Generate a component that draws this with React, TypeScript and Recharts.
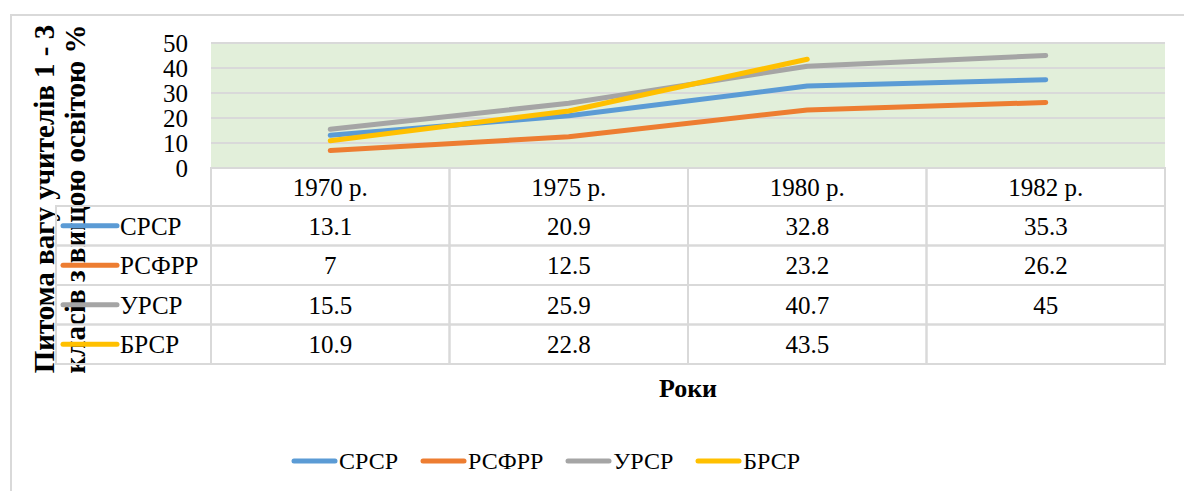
import React from 'react'
import {
  LineChart,
  Line,
  XAxis,
  YAxis,
  CartesianGrid,
  Legend,
} from 'recharts'

const categories = ['1970 р.', '1975 р.', '1980 р.', '1982 р.']
const seriesNames = ['СРСР', 'РСФРР', 'УРСР', 'БРСР']
const srsr = [13.1, 20.9, 32.8, 35.3]
const rsfrr = [7, 12.5, 23.2, 26.2]
const ursr = [15.5, 25.9, 40.7, 45]
const brsr: (number | null)[] = [10.9, 22.8, 43.5, null]
const yTicks = [0, 10, 20, 30, 40, 50]
const colors = ['#5B9BD5', '#ED7D31', '#A5A5A5', '#FFC000']

const seriesValues = [srsr, rsfrr, ursr, brsr]
const data = categories.map((c, i) => ({
  cat: c,
  s0: srsr[i],
  s1: rsfrr[i],
  s2: ursr[i],
  s3: brsr[i],
}))

const W = 1184
const H = 491
const FONT = 'Liberation Serif'
const GRID = '#d9d9d9'

const PLOT_LEFT = 211
const PLOT_RIGHT = 1165
const PLOT_TOP = 43
const PLOT_BOTTOM = 168
const BAND = (PLOT_RIGHT - PLOT_LEFT) / categories.length
const KEY_LEFT = 56
const HEADER_H = 38
const ROW_H = 39.5
const Y_AXIS_W = 60
const X_AXIS_H = 200
const LEGEND_H = 30
const TABLE_FS = 25

const TableColumn = (props: any) => {
  const { x, index } = props
  const left = x - BAND / 2
  const rows = seriesNames.map((name, r) => {
    const top = PLOT_BOTTOM + HEADER_H + r * ROW_H
    const v = seriesValues[r][index]
    return (
      <g key={name}>
        <rect x={left} y={top} width={BAND} height={ROW_H} fill="none" stroke={GRID} strokeWidth={2} />
        <text x={x} y={top + ROW_H / 2} dy="0.35em" textAnchor="middle" fontSize={TABLE_FS} fontFamily={FONT} fill="#000">
          {v == null ? '' : String(v)}
        </text>
        {index === 0 && (
          <g>
            <rect x={KEY_LEFT} y={top} width={PLOT_LEFT - KEY_LEFT} height={ROW_H} fill="none" stroke={GRID} strokeWidth={2} />
            <line x1={63} x2={117} y1={top + ROW_H / 2} y2={top + ROW_H / 2} stroke={colors[r]} strokeWidth={5} strokeLinecap="round" />
            <text x={120} y={top + ROW_H / 2} dy="0.35em" textAnchor="start" fontSize={TABLE_FS} fontFamily={FONT} fill="#000">
              {name}
            </text>
          </g>
        )}
      </g>
    )
  })
  return (
    <g>
      <rect x={left} y={PLOT_BOTTOM} width={BAND} height={HEADER_H} fill="none" stroke={GRID} strokeWidth={2} />
      <text x={x} y={PLOT_BOTTOM + HEADER_H / 2} dy="0.35em" textAnchor="middle" fontSize={TABLE_FS} fontFamily={FONT} fill="#000">
        {categories[index]}
      </text>
      {rows}
      {index === 0 && (
        <text x={(PLOT_LEFT + PLOT_RIGHT) / 2} y={388} dy="0.35em" textAnchor="middle" fontSize={26} fontWeight="bold" fontFamily={FONT} fill="#000">
          Роки
        </text>
      )}
    </g>
  )
}

const YTitle = () => (
  <g>
    <text transform="translate(44,199) rotate(-90)" dy="0.35em" textAnchor="middle" fontSize={29} fontWeight="bold" fontFamily={FONT} fill="#000">
      Питома вагу учителів 1 - 3
    </text>
    <text transform="translate(75,199) rotate(-90)" dy="0.35em" textAnchor="middle" fontSize={29} fontWeight="bold" fontFamily={FONT} fill="#000">
      класів з вищою освітою %
    </text>
  </g>
)

const LegendContent = () => (
  <div style={{ display: 'flex', gap: 22, paddingLeft: 291, height: LEGEND_H, fontFamily: FONT, fontSize: 24, color: '#000', alignItems: 'center' }}>
    {seriesNames.map((name, i) => (
      <div key={name} style={{ display: 'flex', alignItems: 'center' }}>
        <svg width={48} height={10}>
          <line x1={3} x2={44} y1={5} y2={5} stroke={colors[i]} strokeWidth={5} strokeLinecap="round" />
        </svg>
        <span>{name}</span>
      </div>
    ))}
  </div>
)

export default function App() {
  return (
    <div style={{ position: 'absolute', left: 0, top: 0, width: W, height: H, overflow: 'hidden', background: '#fff' }}>
      <div style={{ position: 'absolute', left: 10, top: 14, width: 1400, height: 700, border: `2px solid ${GRID}` }} />
      <div style={{ position: 'absolute', left: 0, top: 0 }}>
        <LineChart
          width={W}
          height={H}
          data={data}
          margin={{ top: PLOT_TOP, right: W - PLOT_RIGHT, left: PLOT_LEFT - Y_AXIS_W, bottom: H - PLOT_BOTTOM - X_AXIS_H - LEGEND_H }}
        >
          <CartesianGrid fill="#E2EFDA" vertical={false} stroke={GRID} strokeWidth={2} />
          <XAxis
            dataKey="cat"
            height={X_AXIS_H}
            axisLine={false}
            tickLine={false}
            interval={0}
            padding={{ left: BAND / 2, right: BAND / 2 }}
            tick={(p: any) => <TableColumn {...p} />}
          />
          <YAxis
            width={Y_AXIS_W}
            domain={[0, 50]}
            ticks={yTicks}
            interval={0}
            axisLine={false}
            tickLine={false}
            tickSize={0}
            tickMargin={23}
            tick={{ fontSize: 25, fill: '#000', fontFamily: FONT }}
          />
          {seriesNames.map((name, i) => (
            <Line
              key={name}
              dataKey={`s${i}`}
              name={name}
              stroke={colors[i]}
              strokeWidth={5}
              strokeLinecap="round"
              strokeLinejoin="round"
              dot={false}
              activeDot={false}
              isAnimationActive={false}
            />
          ))}
          <Legend content={LegendContent} wrapperStyle={{ left: 0, top: 446, width: W, height: LEGEND_H }} />
          <YTitle />
        </LineChart>
      </div>
    </div>
  )
}
